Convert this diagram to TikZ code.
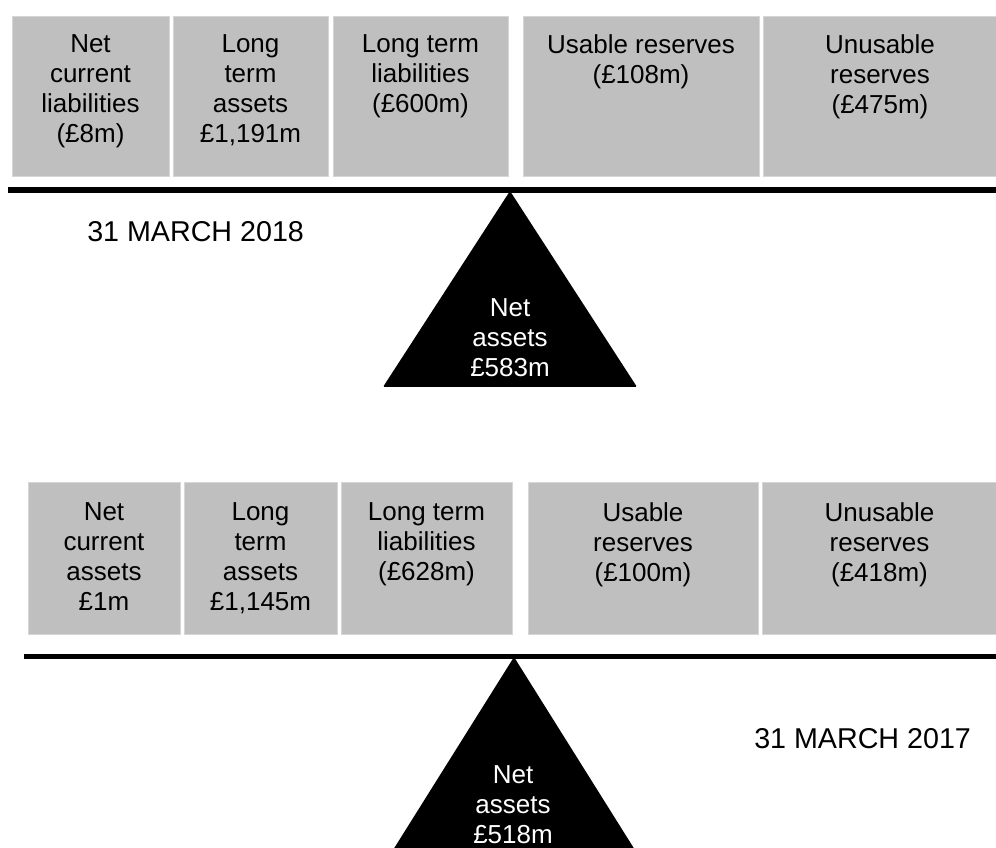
\documentclass[tikz,border=0pt]{standalone}
\usepackage{fontspec}
\setmainfont{Liberation Sans}
\usetikzlibrary{positioning,fit}
\definecolor{boxgray}{RGB}{191,191,191}
\definecolor{boxedge}{RGB}{214,214,214}

\tikzset{
  sheet/.style={fill=boxgray,draw=boxedge,line width=0.6pt,inner sep=0pt},
  sheettext/.style={align=center,inner sep=0pt,anchor=north,font=\fontsize{19.5}{22.5}\selectfont},
  datetext/.style={inner sep=0pt,anchor=base west,font=\fontsize{21.5}{26}\selectfont},
  beam/.style={line width=4.3pt},
  pivot/.style={fill=black,rounded corners=1pt},
  pivottext/.style={align=center,inner sep=0pt,anchor=north,text=white,font=\fontsize{19.5}{22.5}\selectfont}
}

\begin{document}
\begin{tikzpicture}[x=0.75pt,y=-0.75pt]
  \useasboundingbox (0,0) rectangle (996,848);

  \node[sheet,fit={(12,16) (169,176)}]    (ncl18) {};
  \node[sheet,fit={(173,16) (328,176)}]   (lta18) {};
  \node[sheet,fit={(333,16) (508,176)}]   (ltl18) {};
  \node[sheet,fit={(523,16) (759,176)}]   (ur18) {};
  \node[sheet,fit={(763,16) (997,176)}]   (uur18) {};
  \node[sheettext,below=14.25pt of ncl18.north] (ncl18t) {Net\\current\\liabilities\\(£8m)};
  \node[sheettext,below=14.25pt of lta18.north] (lta18t) {Long\\term\\assets\\£1,191m};
  \node[sheettext,below=14.25pt of ltl18.north] (ltl18t) {Long term\\liabilities\\(£600m)};
  \node[sheettext,below=14.25pt of ur18.north]  (ur18t)  {Usable reserves\\(£108m)};
  \node[sheettext,below=14.25pt of uur18.north] (uur18t) {Unusable\\reserves\\(£475m)};

  \coordinate (beam18w) at (8,190);
  \coordinate (beam18e) at (996,190);
  \draw[beam] (beam18w) -- (beam18e);
  \coordinate (apex18) at (510,191);
  \fill[pivot] (apex18) -- (637,387) -- (383,387) -- cycle;
  \node[pivottext] (net18) at (510,298) {Net\\assets\\£583m};
  \node[datetext] (date18) at (87,242) {31 MARCH 2018};

  \node[sheet,fit={(28,482) (180,634)}]   (nca17) {};
  \node[sheet,fit={(184,482) (337,634)}]  (lta17) {};
  \node[sheet,fit={(341,482) (512,634)}]  (ltl17) {};
  \node[sheet,fit={(528,482) (758,634)}]  (ur17) {};
  \node[sheet,fit={(762,482) (997,634)}]  (uur17) {};
  \node[sheettext,below=15.75pt of nca17.north] (nca17t) {Net\\current\\assets\\£1m};
  \node[sheettext,below=15.75pt of lta17.north] (lta17t) {Long\\term\\assets\\£1,145m};
  \node[sheettext,below=15.75pt of ltl17.north] (ltl17t) {Long term\\liabilities\\(£628m)};
  \node[sheettext,below=15.75pt of ur17.north]  (ur17t)  {Usable\\reserves\\(£100m)};
  \node[sheettext,below=15.75pt of uur17.north] (uur17t) {Unusable\\reserves\\(£418m)};

  \coordinate (beam17w) at (24,656.5);
  \coordinate (beam17e) at (996,656.5);
  \draw[beam,line width=4pt] (beam17w) -- (beam17e);
  \coordinate (apex17) at (514,657);
  \begin{scope}
    \clip (0,0) rectangle (996,848);
    \fill[pivot] (apex17) -- (640,858) -- (388,858) -- cycle;
  \end{scope}
  \node[pivottext] (net17) at (513,765) {Net\\assets\\£518m};
  \node[datetext] (date17) at (754,748) {31 MARCH 2017};
\end{tikzpicture}
\end{document}
